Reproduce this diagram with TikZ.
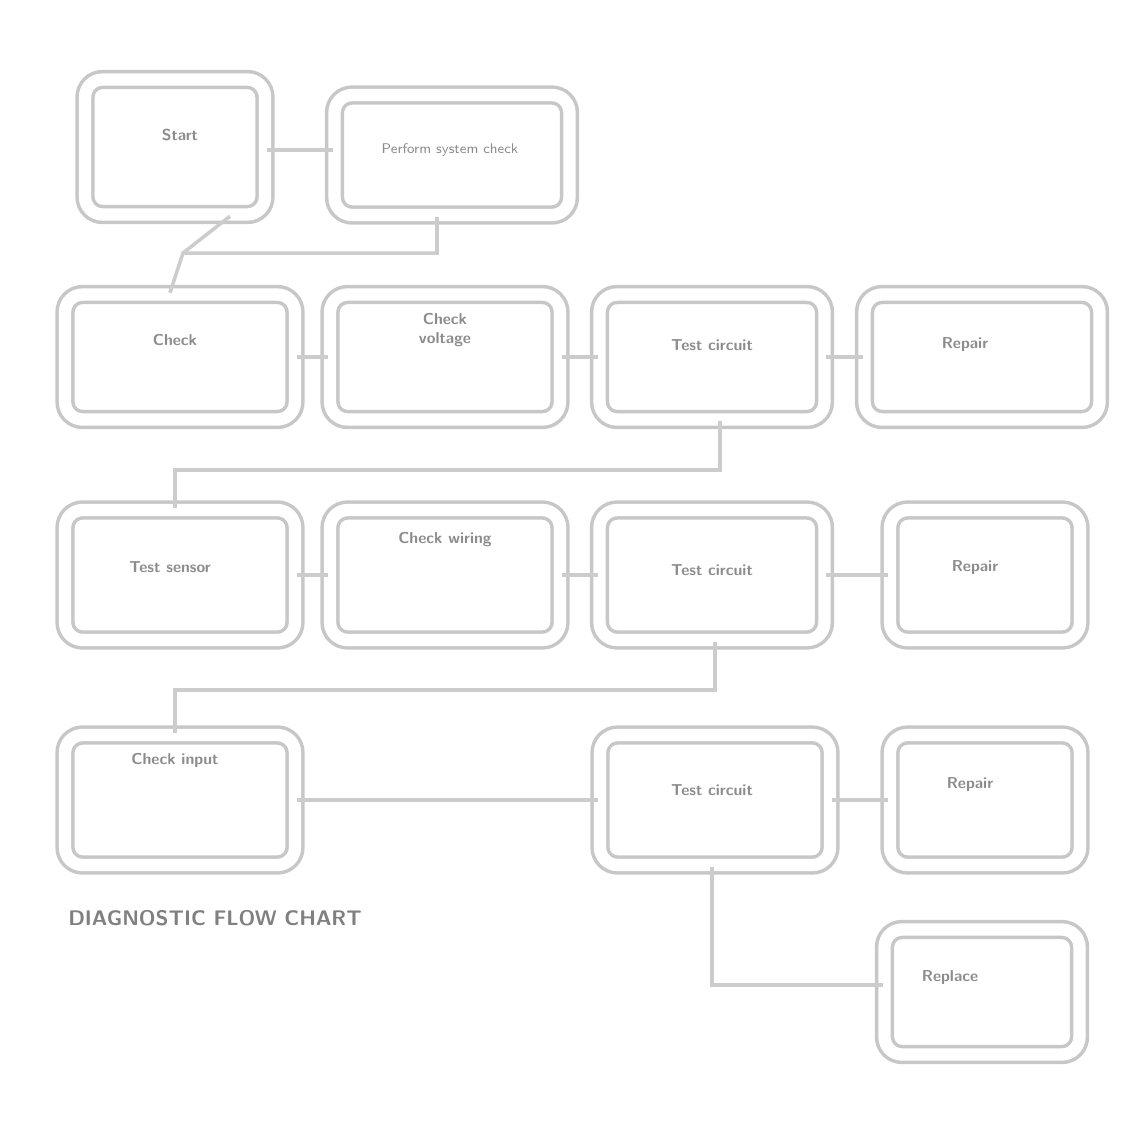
\documentclass[tikz,border=0pt]{standalone}
\usetikzlibrary{positioning}

\tikzset{
  stepbox/.style={draw=black!22, line width=2pt, rounded corners=10pt, double=white, double distance=7pt},
  txt/.style={text=black!45, font=\sffamily\bfseries\small},
  wire/.style={draw=black!20, line width=2pt}
}

\begin{document}
\begin{tikzpicture}[x=0.02cm,y=-0.02cm]
  \useasboundingbox (0,0) rectangle (1134,1144);

  % first row
  \node[stepbox, minimum width=3.6cm, minimum height=2.7cm] (start) at (175,147) {};
  \node[stepbox, minimum width=4.7cm, minimum height=2.4cm] (info) at (452,155) {};
  \node[txt] (starttxt) at (180,135) {Start};
  \node[txt, font=\sffamily\footnotesize] (infotxt) at (450,150) {Perform system check};

  % second row
  \node[stepbox, minimum width=4.6cm, minimum height=2.5cm] (chk1) at (180,357) {};
  \node[stepbox, minimum width=4.6cm, minimum height=2.5cm] (chk2) at (445,357) {};
  \node[stepbox, minimum width=4.5cm, minimum height=2.5cm] (chk3) at (712,357) {};
  \node[stepbox, minimum width=4.7cm, minimum height=2.5cm] (chk4) at (982,357) {};
  \node[txt] (chk1txt) at (175,340) {Check};
  \node[txt, align=center] (chk2txt) at (445,330) {Check\\voltage};
  \node[txt] (chk3txt) at (712,345) {Test circuit};
  \node[txt] (chk4txt) at (965,345) {Repair};

  % third row
  \node[stepbox, minimum width=4.6cm, minimum height=2.6cm] (tst1) at (180,575) {};
  \node[stepbox, minimum width=4.6cm, minimum height=2.6cm] (tst2) at (445,575) {};
  \node[stepbox, minimum width=4.5cm, minimum height=2.6cm] (tst3) at (712,575) {};
  \node[stepbox, minimum width=3.8cm, minimum height=2.6cm] (tst4) at (985,575) {};
  \node[txt] (tst1txt) at (170,567) {Test sensor};
  \node[txt] (tst2txt) at (445,540) {Check wiring};
  \node[txt] (tst3txt) at (712,570) {Test circuit};
  \node[txt] (tst4txt) at (975,568) {Repair};

  % fourth row
  \node[stepbox, minimum width=4.6cm, minimum height=2.6cm] (res1) at (180,800) {};
  \node[stepbox, minimum width=4.6cm, minimum height=2.6cm] (res2) at (715,800) {};
  \node[stepbox, minimum width=3.8cm, minimum height=2.6cm] (res3) at (985,800) {};
  \node[stepbox, minimum width=3.9cm, minimum height=2.5cm] (res4) at (982,992) {};
  \node[txt] (res1txt) at (175,760) {Check input};
  \node[txt] (res2txt) at (712,790) {Test circuit};
  \node[txt] (res3txt) at (970,785) {Repair};
  \node[txt] (res4txt) at (950,978) {Replace};

  \node[txt, font=\sffamily\bfseries\large, text=black!50] (note) at (215,918) {DIAGNOSTIC FLOW CHART};

  % connectors
  \path[wire]
    (start.east |- 0,150) -- (info.west |- 0,150)
    (chk1) -- (chk2)  (chk2) -- (chk3)  (chk3) -- (chk4)
    (tst1) -- (tst2)  (tst2) -- (tst3)  (tst3) -- (tst4)
    (res1.east |- 0,800) -- (res2.west |- 0,800)
    (res2) -- (res3);
  \coordinate (j1) at (437,253);
  \coordinate (j2) at (183,253);
  \coordinate (j3) at (720,470);
  \coordinate (j4) at (175,470);
  \coordinate (j5) at (715,690);
  \coordinate (j6) at (175,690);
  \coordinate (j7) at (712,985);
  \draw[wire] (info.south -| j1) -- (j1) -- (j2) -- (chk1.north -| 170,0);
  \draw[wire] (start.south -| 230,0) -- (j2);
  \draw[wire] (chk3.south -| j3) -- (j3) -- (j4) -- (tst1.north -| j4);
  \draw[wire] (tst3.south -| j5) -- (j5) -- (j6) -- (res1.north -| j6);
  \draw[wire] (res2.south -| j7) -- (j7) -- (res4.west |- j7);
\end{tikzpicture}
\end{document}
